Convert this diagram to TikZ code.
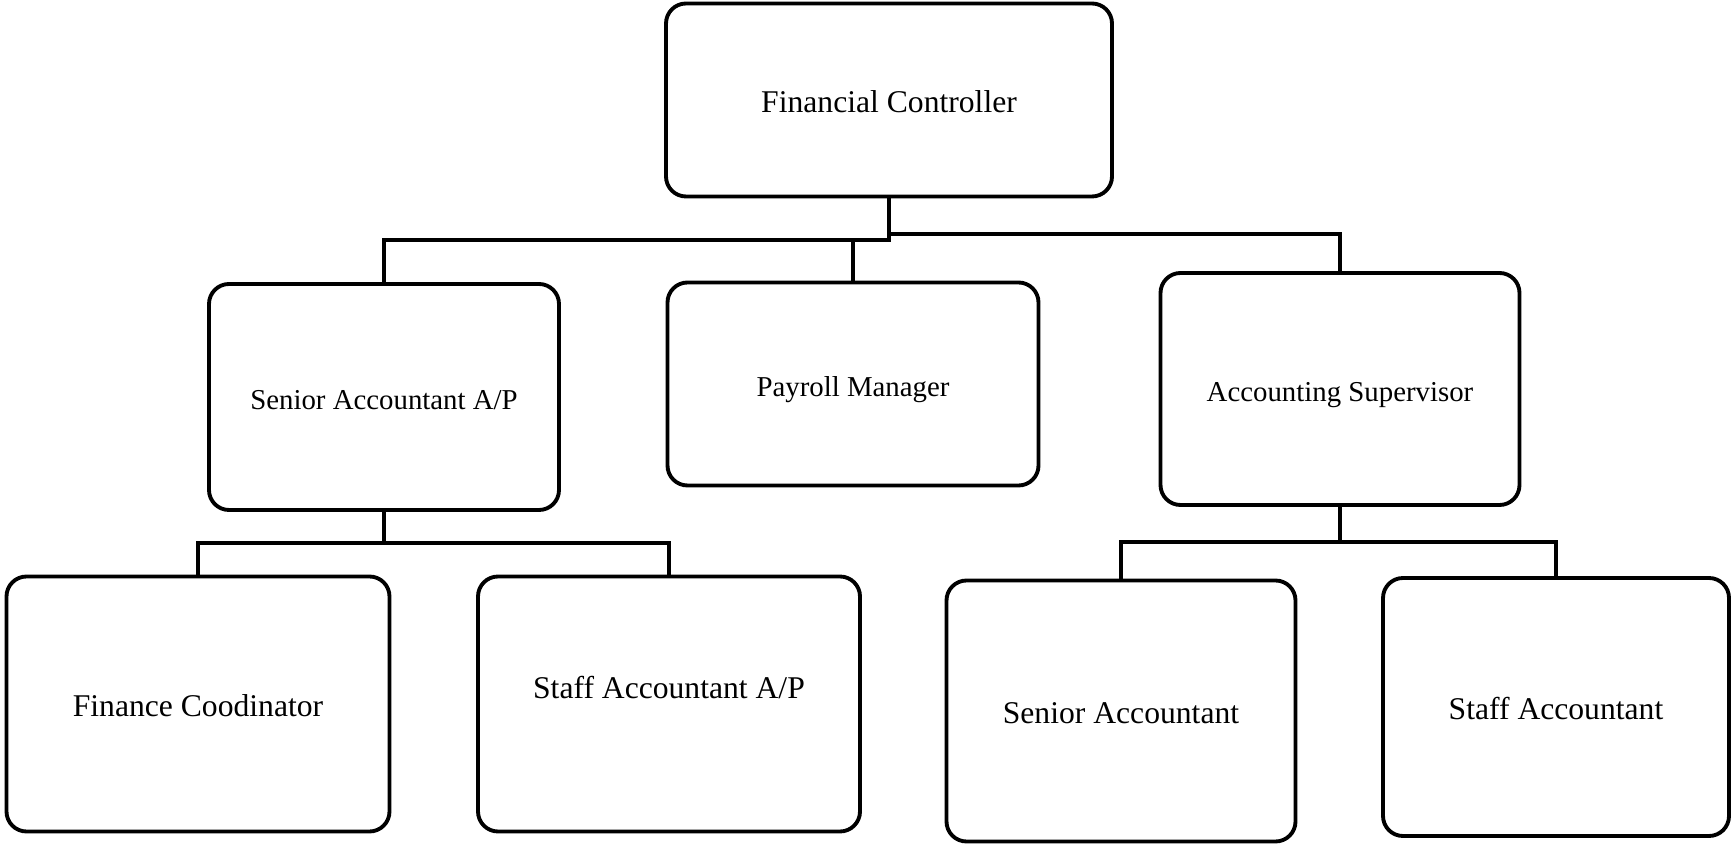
\documentclass[tikz,border=0pt]{standalone}
\usepackage{fontspec}
\setmainfont{Liberation Serif}
\usetikzlibrary{positioning}

\begin{document}
\begin{tikzpicture}[
	post/.style={draw,line width=1.1pt,rounded corners=0.2cm,inner sep=0pt,
		align=center,text height=0.32cm,text depth=0.06cm,
		font=\fontsize{9}{11}\selectfont},
	midpost/.style={post,font=\fontsize{8.2}{10}\selectfont},
	link/.style={line width=1pt}]
	\useasboundingbox (0,0) rectangle (17.32,-8.44);

	\node[post,minimum width=4.46cm,minimum height=1.93cm] (fc) at (8.89,-1.00) {Financial Controller};

	\node[midpost,minimum width=3.50cm,minimum height=2.26cm] (saap) at (3.84,-3.97) {Senior Accountant A/P};
	\node[midpost,minimum width=3.71cm,minimum height=2.03cm] (pm) at (8.53,-3.84) {Payroll Manager};
	\node[midpost,minimum width=3.59cm,minimum height=2.32cm] (as) at (13.40,-3.89) {Accounting Supervisor};

	\node[post,minimum width=3.83cm,minimum height=2.55cm] (fco) at (1.98,-7.04) {Finance Coodinator};
	\node[post,minimum width=3.82cm,minimum height=2.55cm,text height=0.22cm,text depth=0.32cm] (staap) at (6.69,-7.04) {Staff Accountant A/P};
	\node[post,minimum width=3.49cm,minimum height=2.61cm] (sa) at (11.21,-7.11) {Senior Accountant};
	\node[post,minimum width=3.46cm,minimum height=2.58cm] (sta) at (15.56,-7.07) {Staff Accountant};

	% junctions of the connectors
	\coordinate (j1) at (8.89,-2.40);
	\coordinate (j2) at (8.89,-2.34);
	\coordinate (j3) at (3.84,-5.43);
	\coordinate (j4) at (13.40,-5.42);

	\draw[link] (fc.south) -- (j1) -| (saap.north);
	\draw[link] (j1 -| pm.north) -- (pm.north);
	\draw[link] (j2) -| (as.north);

	\draw[link] (saap.south) -- (j3);
	\draw[link] (fco.north) |- (j3) -| (staap.north);

	\draw[link] (as.south) -- (j4);
	\draw[link] (sa.north) |- (j4) -| (sta.north);
\end{tikzpicture}
\end{document}
